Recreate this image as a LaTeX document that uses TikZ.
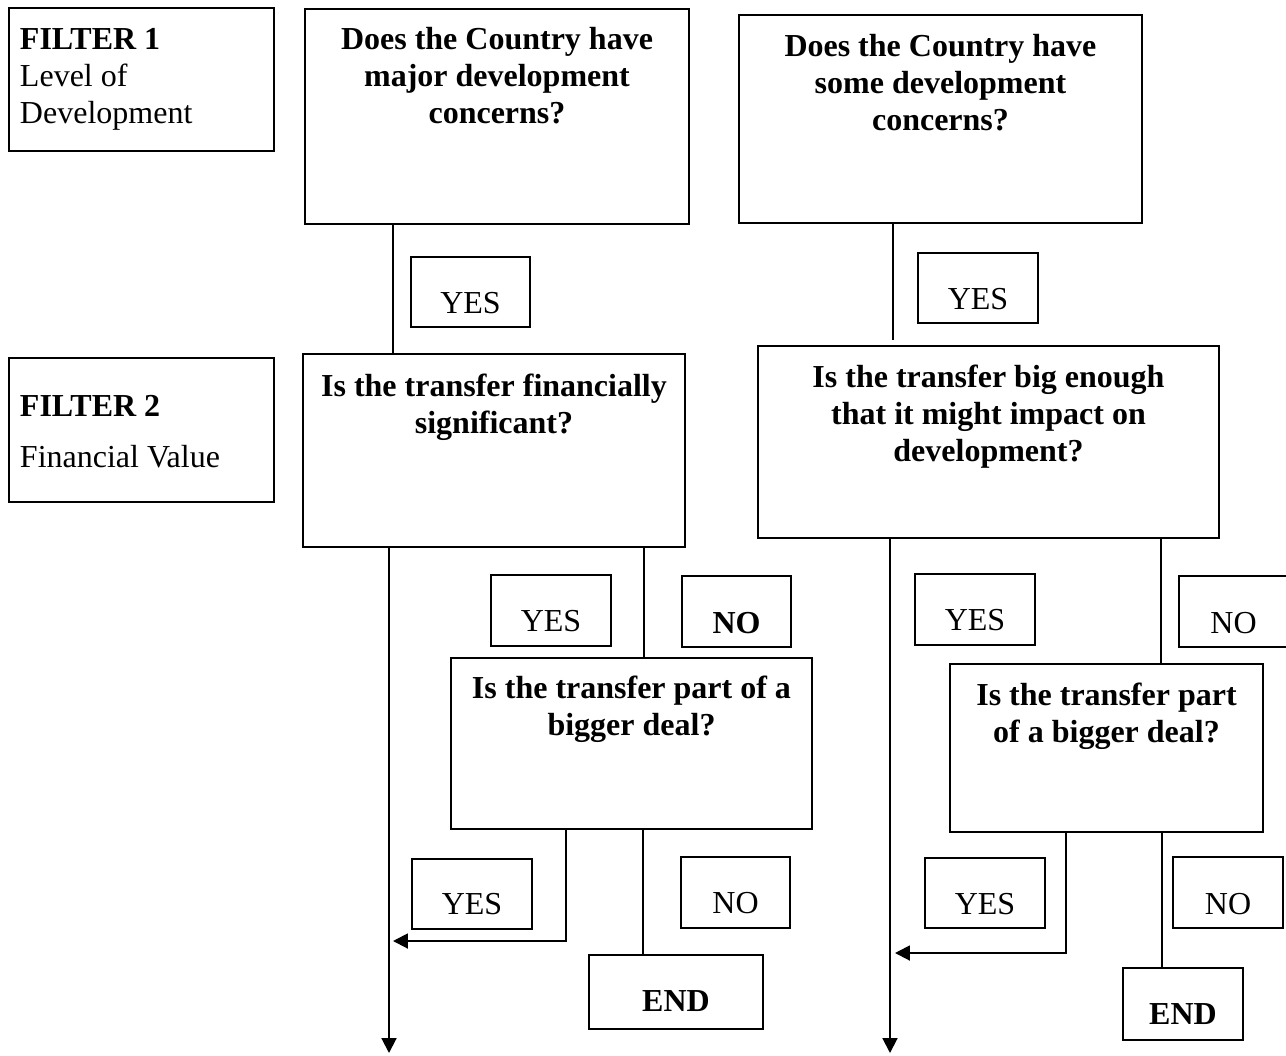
\documentclass[tikz,border=0pt]{standalone}
\usepackage{fontspec}
\setmainfont{Liberation Serif}
\usetikzlibrary{arrows.meta}
\newdimen\pxu \pxu=0.375pt
\newcommand{\qb}[4]{\parbox[c][#2\pxu][t]{#1\pxu}{\centering\rule{0pt}{\dimexpr#3\pxu+1.5\pxu\relax}#4\par}}
\newcommand{\lb}[4]{\parbox[c][#2\pxu][t]{#1\pxu}{\raggedright\leftskip=11\pxu\rule{0pt}{\dimexpr#3\pxu+1\pxu\relax}#4\par}}
\begin{document}
\begin{tikzpicture}[x=0.375pt,y=-0.375pt,line width=0.75pt,
  bx/.style={draw,inner sep=0pt,outer sep=0pt,anchor=north west,font=\fontsize{12}{13.875}\selectfont},
  q/.style={bx,font=\fontsize{12}{13.875}\selectfont\bfseries},
  arr/.style={-{Triangle[length=5.6pt,width=5.6pt]}}]
\useasboundingbox (0,0) rectangle (1286,1055);
% filter labels
\node[bx] (f1) at (9,8) {\lb{265}{143}{40}{\textbf{FILTER 1}\\Level of\\Development}};
\node[bx] (f2) at (9,358) {\lb{265}{144}{57}{\textbf{FILTER 2}\\[14\pxu]Financial Value}};
% question boxes
\node[q] (A) at (305,9) {\qb{384}{215}{39}{Does the Country have\\major development\\concerns?}};
\node[q] (B) at (739,15) {\qb{403}{208}{40}{Does the Country have\\some development\\concerns?}};
\node[q] (C) at (303,354) {\qb{382}{193}{41}{Is the transfer financially\\significant?}};
\node[q] (D) at (758,346) {\qb{461}{192}{40}{Is the transfer big enough\\that it might impact on\\development?}};
\node[q] (E) at (451,658) {\qb{361}{171}{39}{Is the transfer part of a\\bigger deal?}};
\node[q] (F) at (950,664) {\qb{313}{168}{40}{Is the transfer part\\of a bigger deal?}};
% answer labels
\node[bx] (y1) at (411,257) {\qb{119}{70}{55}{YES}};
\node[bx] (y2) at (918,253) {\qb{120}{70}{55}{YES}};
\node[bx] (y3) at (491,575) {\qb{120}{71}{55}{YES}};
\node[q]  (n3) at (682,576) {\qb{109}{71}{56}{NO}};
\node[bx] (y4) at (412,859) {\qb{120}{70}{54}{YES}};
\node[bx] (n4) at (681,857) {\qb{109}{71}{55}{NO}};
\node[bx] (y5) at (915,574) {\qb{120}{71}{55}{YES}};
\node[bx] (n5) at (1179,576) {\qb{109}{71}{56}{NO}};
\node[bx] (y6) at (925,858) {\qb{120}{70}{55}{YES}};
\node[bx] (n6) at (1173,857) {\qb{110}{71}{56}{NO}};
% end boxes
\node[q] (end1) at (589,955) {\qb{174}{74}{55}{END}};
\node[q] (end2) at (1123,968) {\qb{120}{72}{55}{END}};
% helper coordinates
\coordinate (xa) at (393,0);
\coordinate (xb) at (893,0);
\coordinate (xc) at (389,0);
\coordinate (xd) at (644,0);
\coordinate (xe) at (566,0);
\coordinate (xf) at (643,0);
\coordinate (xg) at (890,0);
\coordinate (xh) at (1161,0);
\coordinate (xi) at (1066,0);
\coordinate (xj) at (1162,0);
\coordinate (endL) at (389,1053);
\coordinate (endR) at (890,1053);
\coordinate (jL) at (393,941);
\coordinate (jR) at (895,953);
% connectors
\draw (A.south -| xa) -- (C.north -| xa);
\draw[shorten >=2.25pt] (B.south -| xb) -- (D.north -| xb);
\draw[arr] (C.south -| xc) -- (endL);
\draw (C.south -| xd) -- (E.north -| xd);
\draw[arr] (E.south -| xe) |- (jL);
\draw (E.south -| xf) -- (end1.north -| xf);
\draw[arr] (D.south -| xg) -- (endR);
\draw (D.south -| xh) -- (F.north -| xh);
\draw[arr] (F.south -| xi) |- (jR);
\draw (F.south -| xj) -- (end2.north -| xj);
\end{tikzpicture}
\end{document}
